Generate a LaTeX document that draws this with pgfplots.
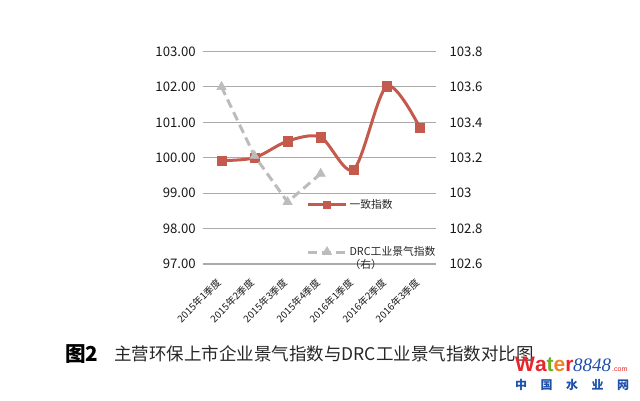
\documentclass[border=0pt]{standalone}
\usepackage{fontspec}
\setmainfont{Noto Sans CJK SC}
\newfontfamily\wmsans{Liberation Sans}
\newfontfamily\wmserif{Liberation Serif}
\usepackage{pgfplots}
\pgfplotsset{compat=1.18}

\definecolor{yizhi}{RGB}{196,90,78}
\definecolor{drc}{RGB}{188,188,188}
\definecolor{gridc}{RGB}{170,170,170}
\definecolor{wmred}{RGB}{230,38,42}
\definecolor{wmorange}{RGB}{245,130,32}
\definecolor{wmgreen}{RGB}{110,176,40}
\definecolor{wmblue}{RGB}{30,80,170}

\begin{document}
\begin{tikzpicture}
\useasboundingbox (0,0) rectangle (640pt,401pt);

% left axis: 一致指数
\begin{axis}[
  at={(203.3pt,137pt)}, anchor=south west,
  scale only axis, width=232.7pt, height=212.5pt,
  xmin=-0.55, xmax=6.49, ymin=97, ymax=103,
  ytick={97,98,...,103},
  xtick={0,...,6},
  xticklabels={2015年1季度,2015年2季度,2015年3季度,2015年4季度,2016年1季度,2016年2季度,2016年3季度},
  axis line style={draw=none},
  major tick length=0pt,
  ymajorgrids, grid style={draw=gridc, line width=1.1pt},
  /pgf/number format/assume math mode=true,
  tick label style={font=\fontsize{13.2}{15}\selectfont, text=black!90},
  yticklabel style={/pgf/number format/fixed, /pgf/number format/fixed zerofill, /pgf/number format/precision=2},
  xticklabel style={font=\fontsize{9.8}{11}\selectfont, rotate=45, anchor=east},
  xticklabel shift=14pt,
  yticklabel shift=4pt,
  clip=false,
]
\addplot[smooth, color=yizhi, line width=3pt, mark=square*, mark size=4.6pt,
  mark options={line width=0.4pt}] coordinates {
  (0,99.92) (1,100.00) (2,100.47) (3,100.58) (4,99.67) (5,102.02) (6,100.85)
};
\end{axis}

% right axis: DRC工业景气指数
\begin{axis}[
  at={(203.3pt,137pt)}, anchor=south west,
  scale only axis, width=232.7pt, height=212.5pt,
  xmin=-0.55, xmax=6.49, ymin=102.6, ymax=103.8,
  axis x line=none, axis y line*=right,
  y axis line style={draw=none},
  ytick={102.6,102.8,103,103.2,103.4,103.6,103.8},
  major tick length=0pt,
  /pgf/number format/assume math mode=true,
  tick label style={font=\fontsize{13.2}{15}\selectfont, text=black!90},
  yticklabel shift=10pt,
  clip=false,
  legend style={draw=none, fill=none, at={(0.43,0.325)}, anchor=north west,
    row sep=33pt, font=\fontsize{10.8}{12}\selectfont, text=black!85},
  legend cell align=left,
  legend image code/.code={\draw[mark repeat=2, mark phase=2, #1]
    plot coordinates {(0pt,0pt) (19pt,0pt) (38pt,0pt)};},
]
\addlegendimage{color=yizhi, line width=3pt, mark=square*, mark size=3.6pt, mark options={line width=0.4pt}}
\addlegendentry{一致指数}
\addplot[color=drc, line width=3pt, dash pattern=on 9pt off 5pt, mark=triangle*, mark size=5.5pt,
  mark options={solid, line width=0.4pt}] coordinates {
  (0,103.60) (1,103.21) (2,102.95) (3,103.11)
};
\addlegendentry{\begin{tabular}[t]{@{}l@{}}DRC工业景气指数\\（右）\end{tabular}}
\end{axis}

% caption
\node[anchor=west, inner sep=0pt, font=\fontsize{20.6}{22}\selectfont\bfseries] at (65pt,47pt) {图2};
\node[anchor=west, inner sep=0pt, font=\fontsize{17.5}{19}\selectfont, text=black!85] at (114pt,47pt)
  {主营环保上市企业景气指数与DRC工业景气指数对比图};

% watermark
\node[anchor=base west, inner sep=0pt] at (515pt,29pt)
  {\wmsans\bfseries\fontsize{21}{22}\selectfont\textcolor{wmred}{W}\textcolor{wmred}{a}\textcolor{wmgreen}{t}\textcolor{wmorange}{e}\textcolor{wmred}{r}};
\node[anchor=base west, inner sep=0pt] at (573pt,29pt)
  {\wmserif\itshape\fontsize{19}{20}\selectfont\textcolor{wmblue}{8848}};
\node[anchor=base west, inner sep=0pt] at (612pt,29pt)
  {\wmsans\fontsize{7}{8}\selectfont\textcolor{wmred}{.com}};
\node[anchor=base west, inner sep=0pt, font=\fontsize{12}{13}\selectfont\bfseries, text=wmblue] at (515pt,11pt)
  {中\hspace{13.5pt}国\hspace{13.5pt}水\hspace{13.5pt}业\hspace{13.5pt}网};
\end{tikzpicture}
\end{document}
